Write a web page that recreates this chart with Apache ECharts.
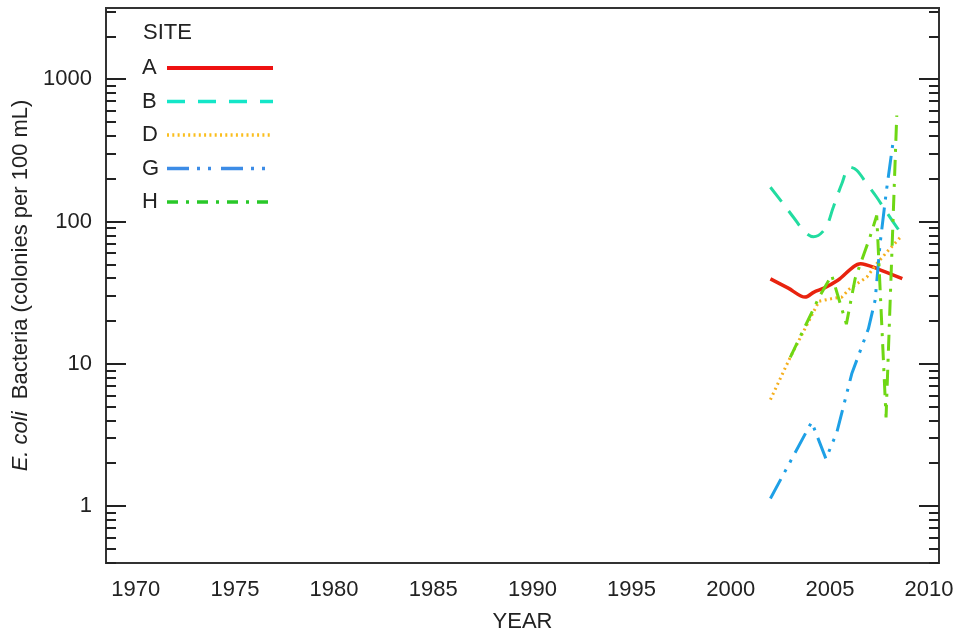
<!DOCTYPE html>
<html>
<head>
<meta charset="utf-8">
<script src="https://cdn.jsdelivr.net/npm/echarts@6/dist/echarts.min.js"></script>
<style>
html,body{margin:0;padding:0;background:#fff;}
#chart{width:969px;height:640px;}
</style>
</head>
<body>
<div id="chart"></div>
<script>
// ---- data ----
const siteNames = ['A', 'B', 'D', 'G', 'H'];
const siteA_years  = [2002.0, 2002.9, 2003.75, 2004.2, 2004.7, 2005.4, 2006.55, 2007.4, 2008.65];
const siteA_values = [39.5, 34, 29.4, 31.9, 34, 38.6, 50.5, 46.5, 39.6];
const siteB_years  = [2002.0, 2002.65, 2003.16, 2003.75, 2004.17, 2004.76, 2005.17, 2005.6, 2006.0, 2006.35, 2006.86, 2007.36, 2007.86, 2008.65];
const siteB_values = [174, 133, 107, 84, 78, 89, 126, 184, 241, 229, 184, 148, 116, 80];
const siteD_years  = [2002.0, 2003.0, 2004.45, 2005.1, 2005.6, 2006.0, 2006.86, 2007.36, 2007.95, 2008.65];
const siteD_values = [5.6, 11.1, 27.5, 28.7, 29.4, 33.7, 40.6, 50.5, 62.7, 80];
const siteG_years  = [2002.0, 2004.08, 2004.8, 2005.35, 2006.1, 2006.94, 2007.28, 2007.53, 2007.85, 2008.2];
const siteG_values = [1.13, 3.9, 2.15, 3.3, 8.5, 17.6, 28, 70, 165, 375];
const siteH_years  = [2003.0, 2004.42, 2005.09, 2005.83, 2006.27, 2007.02, 2007.36, 2007.83, 2008.37];
const siteH_values = [11.1, 28.7, 42, 19, 39.6, 77.7, 110, 4.2, 556];

const xTickLabels = [1970, 1975, 1980, 1985, 1990, 1995, 2000, 2005, 2010];
const yTickLabels = [1, 10, 100, 1000];
const yMinorTicks = [0.4, 0.5, 0.6, 0.7, 0.8, 0.9, 2, 3, 4, 5, 6, 7, 8, 9, 20, 30, 40, 50, 60, 70, 80, 90,
                     200, 300, 400, 500, 600, 700, 800, 900, 2000, 3000];

// ---- build ----
const lg = v => Math.log10(v);
const pairs = (xs, ys) => xs.map((x, i) => [x, lg(ys[i])]);
const FONT = 'Liberation Sans';
const FS = 22;
const Y_MIN = -0.4, Y_MAX = 3.5;

const majorVals = yTickLabels.map(lg);
const minorVals = yMinorTicks.map(lg);

function yAxisCfg(pos, vals, len, withLabel) {
  return {
    type: 'value', position: pos, min: Y_MIN, max: Y_MAX,
    splitLine: { show: false },
    axisLine: { show: false },
    axisTick: { show: true, inside: true, length: len, customValues: vals,
                lineStyle: { color: '#222', width: 2 } },
    axisLabel: withLabel ? {
      show: true, customValues: majorVals, margin: 14,
      fontFamily: FONT, fontSize: FS, color: '#222',
      formatter: v => String(Math.round(Math.pow(10, v)))
    } : { show: false }
  };
}

const colors = { A: '#e8230f', B: '#22dca0', D: '#f5af1e', G: '#1ea0e6', H: '#6ed714' };
const legendColors = { A: '#ee1111', B: '#14e6c8', D: '#fabe1e', G: '#3c8ce6', H: '#28c828' };
const dashes = { A: 'solid', B: [18, 12], D: [2, 3.5], G: [22, 8, 3, 8, 3, 8], H: [16, 8, 3, 8] };
const legendDashes = { A: 'solid', B: [18, 13], D: [2, 3.3], G: [22, 8, 3, 8, 3, 10], H: [11, 8, 3, 8] };
const widths = { A: 3.5, B: 3, D: 3, G: 3, H: 3 };
const smooths = { A: 0.3, B: 0.35, D: false, G: false, H: false };
const seriesData = {
  A: pairs(siteA_years, siteA_values),
  B: pairs(siteB_years, siteB_values),
  D: pairs(siteD_years, siteD_values),
  G: pairs(siteG_years, siteG_values),
  H: pairs(siteH_years, siteH_values)
};

const option = {
  animation: false,
  backgroundColor: '#fff',
  title: {
    text: 'SITE', left: 143, top: 22, padding: 0,
    textStyle: { fontFamily: FONT, fontSize: FS, fontWeight: 'normal', color: '#222', lineHeight: 22 }
  },
  legend: {
    orient: 'vertical', left: 142, top: 57, padding: 0,
    align: 'right', itemWidth: 106, itemHeight: 14, itemGap: 11.5,
    formatter: '{n|{name}}',
    textStyle: { fontFamily: FONT, fontSize: FS, color: '#222', lineHeight: 22,
      rich: { n: { width: 20, align: 'left', fontFamily: FONT, fontSize: FS, color: '#222', lineHeight: 22 } } },
    data: siteNames.map(n => ({ name: n,
      itemStyle: { color: legendColors[n], opacity: 0 },
      lineStyle: { color: legendColors[n], width: n === 'A' ? 4 : 3.5, type: legendDashes[n] } }))
  },
  grid: {
    left: 106, right: 30, top: 8, bottom: 77,
    show: true, borderColor: '#333', borderWidth: 2, backgroundColor: 'transparent'
  },
  xAxis: {
    type: 'value', min: 1968.5, max: 2010.5,
    name: 'YEAR', nameLocation: 'middle', nameGap: 48,
    nameTextStyle: { fontFamily: FONT, fontSize: FS, color: '#222' },
    splitLine: { show: false },
    axisLine: { show: false },
    axisTick: { show: false },
    axisLabel: { customValues: xTickLabels, margin: 16, fontFamily: FONT, fontSize: FS, color: '#222',
      formatter: v => String(v) }
  },
  yAxis: [
    Object.assign(yAxisCfg('left', majorVals, 20, true), {
      name: '{i|E. coli}  Bacteria (colonies per 100 mL)',
      nameLocation: 'middle', nameGap: 70,
      nameTextStyle: { fontFamily: FONT, fontSize: FS, color: '#222',
        rich: { i: { fontStyle: 'italic', fontFamily: FONT, fontSize: FS, color: '#222' } } }
    }),
    yAxisCfg('left', minorVals, 10, false),
    yAxisCfg('right', majorVals, 20, false),
    yAxisCfg('right', minorVals, 10, false)
  ],
  series: siteNames.map(n => ({
    name: n, type: 'line', yAxisIndex: 0,
    data: seriesData[n],
    symbol: 'none', showSymbol: false,
    smooth: smooths[n],
    color: colors[n],
    lineStyle: { color: colors[n], width: widths[n], type: dashes[n] }
  }))
};

const chart = echarts.init(document.getElementById('chart'), null, { renderer: 'canvas' });
chart.setOption(option);
</script>
</body>
</html>
